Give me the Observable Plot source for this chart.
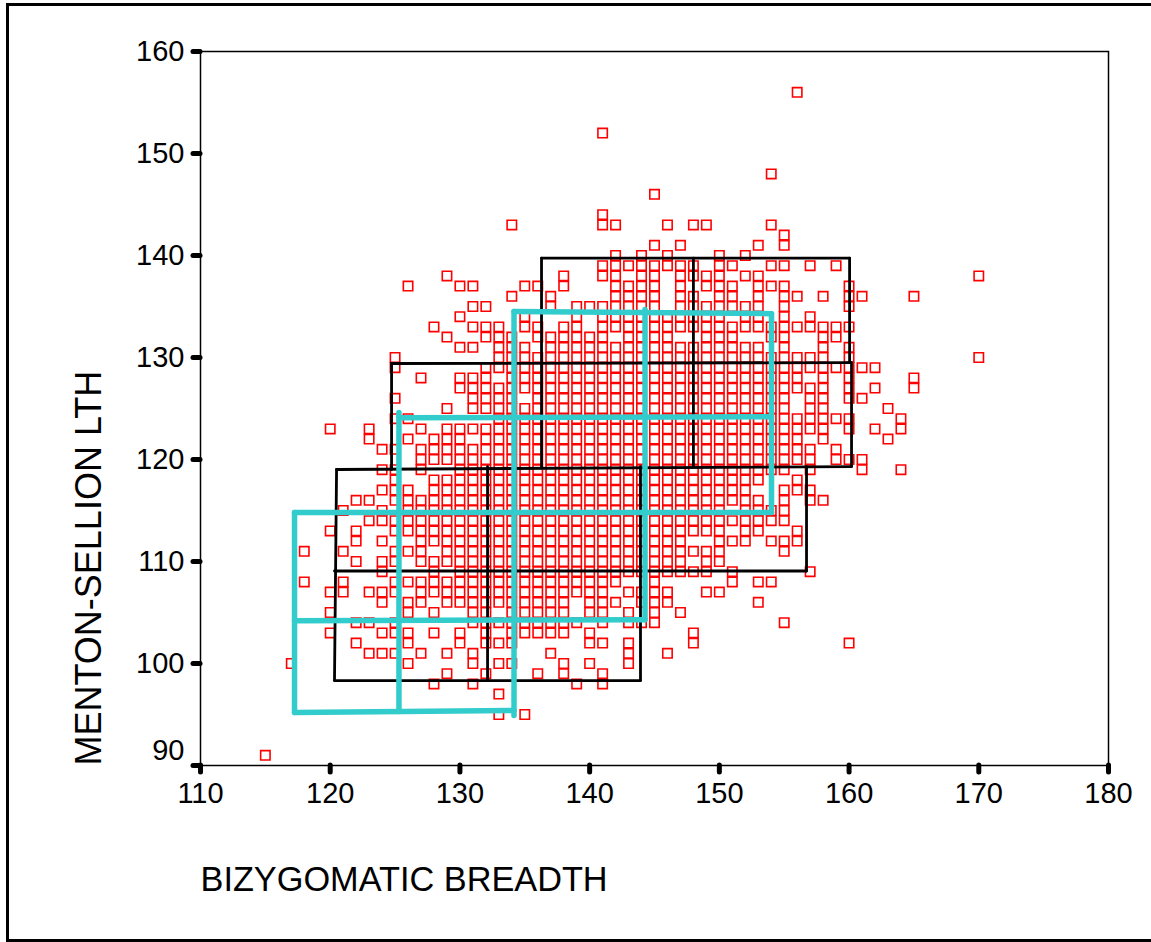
<!DOCTYPE html>
<html><head><meta charset="utf-8">
<script src="https://cdn.jsdelivr.net/npm/d3@7"></script>
<script src="https://cdn.jsdelivr.net/npm/@observablehq/plot@0.6"></script>
<style>
html,body{margin:0;padding:0;background:#fff;}
#wrap{position:relative;width:1151px;height:942px;overflow:hidden;}
#border{position:absolute;left:6px;top:3px;width:1143px;height:933px;border-left:3px solid #000;border-top:3px solid #000;border-bottom:3px solid #000;border-right:1px solid #bbb;box-sizing:content-box;}
#chart{position:absolute;left:0;top:0;}
svg{background:transparent !important;}
</style></head><body>
<div id="wrap"><div id="border"></div><div id="chart"></div></div>
<script>
const xTitle = "BIZYGOMATIC BREADTH";
const yTitle = "MENTON-SELLION LTH";
const xTicks = [110,120,130,140,150,160,170,180];
const yTicks = [100,110,120,130,140,150,160];
const yLowTick = [90];

const col115=[91];
const col117=[100];
const col118=[111,108];
const col120=[123,113,107,105,103];
const col121=[115,111,108,107];
const col122=[116,113,112,110,104,102];
const col123=[123,122,116,114,107,104,101];
const col124=[121,119,117,115,114,112,110,109,107,106,103,101];
const col125=[130,129,126,124,121,119,118,117,116,114,113,111,110,108,107,104,103,101];
const col126=[137,124,122,117,116,115,114,113,111,108,106,105,103,102,100];
const col127=[128,123,121,120,119,116,115,114,113,112,111,110,108,107,106,101];
const col128=[133,122,121,120,118,117,116,115,114,113,112,110,109,108,107,105,103,98];
const col129=[138,132,125,123,122,121,120,118,117,116,115,114,113,112,111,110,108,107,106,101,99];
const col130=[137,134,131,128,127,123,122,121,120,119,118,117,116,115,114,113,112,111,110,109,108,107,106,103,102];
const col131=[137,135,133,131,128,127,126,125,123,121,120,119,118,117,116,115,114,113,112,111,110,109,108,107,106,105,104,101,100,98];
const col132=[135,133,132,129,128,127,126,125,123,122,121,120,119,118,117,116,115,114,113,112,111,110,109,108,107,106,105,104,103,102,99];
const col133=[133,132,131,130,129,127,126,125,124,123,122,121,120,119,118,117,116,115,114,113,112,111,110,109,108,107,106,104,102,100,97,95];
const col134=[143,136,132,131,130,129,128,127,126,125,124,123,122,121,120,119,118,117,116,115,114,113,112,111,110,109,108,107,106,105,104,103,102,100];
const col135=[137,134,133,131,130,129,128,127,125,124,123,122,121,120,119,118,117,116,115,114,113,112,111,110,109,108,107,106,105,104,103,95];
const col136=[137,133,132,130,129,128,127,126,125,124,123,122,121,120,119,118,117,116,115,114,113,112,111,110,109,108,107,106,105,104,103,99];
const col137=[136,135,132,131,130,129,128,127,126,125,124,123,122,121,120,119,118,117,116,115,114,113,112,111,110,109,108,107,106,105,104,103,101];
const col138=[138,137,133,132,131,130,129,128,127,126,125,124,123,122,121,120,119,118,117,116,115,114,113,112,111,110,109,108,107,106,105,104,103,100,99];
const col139=[135,134,133,132,131,130,129,128,127,126,125,124,123,122,121,120,119,118,117,116,115,114,113,112,111,110,109,108,107,104,98];
const col140=[135,132,131,130,129,128,127,126,125,124,123,122,121,120,119,118,117,116,115,114,113,112,111,110,109,108,107,106,105,103,102,100];
const col141=[152,144,143,139,138,135,134,133,132,131,130,129,128,127,126,125,124,123,122,121,120,119,118,117,116,115,114,113,112,111,110,109,108,107,106,105,104,102,99,98];
const col142=[143,140,139,138,137,136,135,134,133,131,130,129,128,127,126,125,124,123,122,121,120,119,118,117,116,115,114,113,112,111,110,109,108,106];
const col143=[139,137,136,135,134,133,132,131,130,129,128,127,126,125,124,123,122,121,120,119,118,117,116,115,114,113,112,111,110,109,107,105,104,102,101,100];
const col144=[140,139,138,137,136,135,134,133,132,131,130,129,128,127,126,125,124,123,122,121,120,119,118,117,116,115,114,113,112,111,110,109,107,106,104];
const col145=[146,141,139,138,137,136,135,134,133,132,131,130,129,128,127,126,125,124,123,122,121,120,119,118,117,116,115,114,113,112,111,110,109,108,107,106,105,104];
const col146=[143,140,139,134,133,132,131,130,129,128,127,126,125,124,123,122,121,120,119,118,117,116,115,114,113,112,111,110,109,107,106,101];
const col147=[141,139,138,137,136,135,134,133,131,130,129,128,127,126,125,124,123,122,121,120,119,118,117,116,115,114,113,112,111,110,109,105];
const col148=[143,139,138,136,135,134,133,131,130,129,128,127,126,125,124,123,122,121,120,119,118,117,116,115,114,113,111,109,103,102];
const col149=[143,138,137,135,134,133,132,131,130,129,128,127,126,125,124,123,122,121,120,119,118,117,116,115,114,113,111,110,109,107];
const col150=[140,139,138,137,136,135,134,133,132,131,130,129,128,127,126,125,124,123,122,121,120,119,118,117,116,115,114,113,112,111,110,107];
const col151=[139,137,136,135,133,132,131,130,129,128,127,126,125,124,123,122,121,120,119,118,117,116,114,112,109,108];
const col152=[140,138,135,134,133,131,130,129,128,127,126,125,124,123,122,121,120,119,118,117,116,115,114,113,112];
const col153=[141,138,137,136,135,134,133,131,130,129,128,127,126,125,124,123,122,121,120,119,118,116,115,114,113,108,106];
const col154=[148,143,139,137,133,132,130,129,128,127,126,125,124,123,122,121,120,119,115,114,112,108];
const col155=[142,141,139,137,136,135,134,133,132,131,130,129,128,127,126,125,124,123,122,121,120,119,117,116,115,114,112,111,104];
const col156=[156,136,133,130,129,128,127,124,123,122,121,120,118,117,113,112];
const col157=[139,134,133,130,129,127,126,125,124,123,121,120,119,117,116,109];
const col158=[136,133,132,131,130,129,128,127,126,125,124,123,122,116];
const col159=[139,133,132,129,124,121,120];
const col160=[137,136,135,133,131,130,129,128,127,126,124,123,120,102];
const col161=[136,129,126,120,119];
const col162=[129,127,123];
const col163=[125,122];
const col164=[124,123,119];
const col165=[136,128,127];
const col170=[138,130];

const columns = [
 [115,col115],[117,col117],[118,col118],[120,col120],[121,col121],[122,col122],[123,col123],[124,col124],
 [125,col125],[126,col126],[127,col127],[128,col128],[129,col129],[130,col130],[131,col131],[132,col132],
 [133,col133],[134,col134],[135,col135],[136,col136],[137,col137],[138,col138],[139,col139],[140,col140],
 [141,col141],[142,col142],[143,col143],[144,col144],[145,col145],[146,col146],[147,col147],[148,col148],
 [149,col149],[150,col150],[151,col151],[152,col152],[153,col153],[154,col154],[155,col155],[156,col156],
 [157,col157],[158,col158],[159,col159],[160,col160],[161,col161],[162,col162],[163,col163],[164,col164],
 [165,col165],[170,col170]
];
const points = columns.flatMap(([x,ys]) => ys.map(y => ({x,y})));

// Grid outlines in data units: x1, y1, x2, y2
const blackSegments = [
 [136.29,139.75,160.04,139.75],[136.29,139.75,136.29,119.31],[148,139.75,148,119.3],[160.04,139.75,160.04,129.5],
 [124.73,129.41,160.19,129.5],[124.73,129.41,124.73,119.02],[160.19,129.5,160.19,119.31],[120.49,119.02,160.19,119.31],
 [120.49,119.02,120.33,98.33],[132.13,119.3,132.13,98.33],[143.92,119.3,143.92,98.33],[156.72,119.31,156.72,109.07],
 [120.33,109.07,156.72,109.07],[120.33,98.33,143.92,98.33]
];
const tealSegments = [
 [117.25,114.8,154.02,114.8],[117.25,114.8,117.25,95.2],[117.25,95.2,134.17,95.4],[117.25,104.2,144.27,104.3],
 [125.3,124.6,125.3,95.3],[125.3,124.1,154.02,124.2],[134.17,134.5,134.17,94.9],[144.27,134.7,144.27,104.3],
 [134.17,134.5,154.02,134.3],[154.02,134.3,154.02,114.8]
];
const seg = {x1:d=>d[0],y1:d=>d[1],x2:d=>d[2],y2:d=>d[3]};
const font = "Liberation Sans, Arial, sans-serif";

const chart = Plot.plot({
  width:1151, height:942,
  marginLeft:200, marginRight:43, marginTop:51, marginBottom:177,
  style:{fontFamily:font, background:"transparent", color:"#000"},
  x:{domain:[110,180]},
  y:{domain:[90,160]},
  marks:[
    Plot.frame({stroke:"#000",strokeWidth:1.5}),
    Plot.axisX({anchor:"bottom",ticks:xTicks,tickSize:7,strokeWidth:5,strokeLinecap:"round",tickPadding:10,fontSize:29,label:null,tickFormat:d=>String(d),fontVariant:"normal"}),
    Plot.axisY({anchor:"left",ticks:yTicks.concat(yLowTick),tickSize:7,strokeWidth:5,strokeLinecap:"round",tickPadding:9,fontSize:29,label:null,tickFormat:d=>d===90?"":String(d),fontVariant:"normal"}),
    Plot.text(yLowTick,{x:()=>110,y:d=>d,text:d=>String(d),textAnchor:"end",dx:-16,dy:-15,fontSize:29}),
    Plot.dot(points,{x:"x",y:"y",symbol:"square",r:5.3,stroke:"#ff0000",strokeWidth:1.6,fill:"none"}),
    Plot.link(blackSegments,{...seg,stroke:"#000",strokeWidth:2.8,strokeLinecap:"round"}),
    Plot.link(tealSegments,{...seg,stroke:"#33cccc",strokeWidth:5.5,strokeLinecap:"round"}),
    Plot.text([xTitle],{frameAnchor:"bottom-left",dx:0,dy:115,fontSize:34.3,textAnchor:"start",lineAnchor:"middle"}),
    Plot.text([yTitle],{frameAnchor:"bottom-left",dx:-111,dy:0,fontSize:36,rotate:-90,textAnchor:"start",lineAnchor:"middle"})
  ]
});
document.getElementById("chart").appendChild(chart);
</script></body></html>
